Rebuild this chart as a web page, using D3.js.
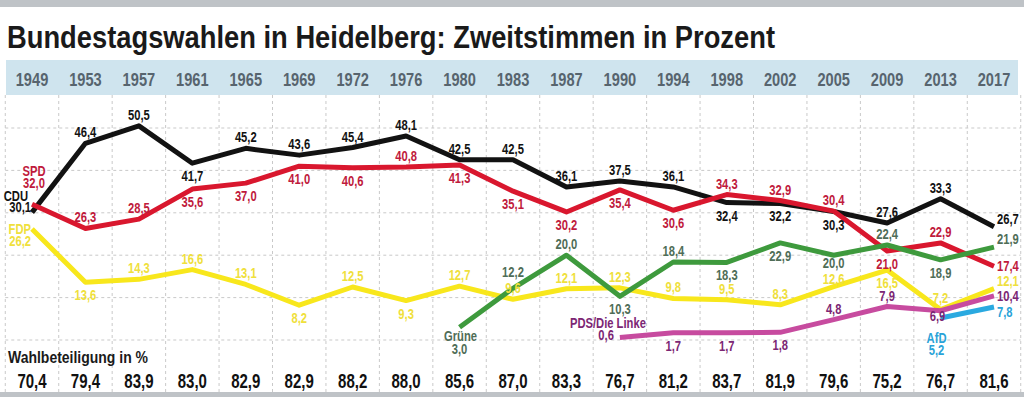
<!DOCTYPE html>
<html>
<head>
<meta charset="utf-8">
<script src="https://cdn.jsdelivr.net/npm/d3@7"></script>
<style>
  html, body { margin: 0; padding: 0; background: #ffffff; }
  svg { display: block; }
  text { font-family: "Liberation Sans", Arial, "DejaVu Sans", sans-serif; font-weight: bold; }
</style>
</head>
<body>
<svg id="chart" width="1024" height="397"></svg>
<script>
// ---------- DATA ----------
const years = [1949,1953,1957,1961,1965,1969,1972,1976,1980,1983,1987,1990,1994,1998,2002,2005,2009,2013,2017];
const cdu   = [30.1,46.4,50.5,41.7,45.2,43.6,45.4,48.1,42.5,42.5,36.1,37.5,36.1,32.4,32.2,30.3,27.6,33.3,26.7];
const spd   = [32.0,26.3,28.5,35.6,37.0,41.0,40.6,40.8,41.3,35.1,30.2,35.4,30.6,34.3,32.9,30.4,21.0,22.9,17.4];
const fdp   = [26.2,13.6,14.3,16.6,13.1,8.2,12.5,9.3,12.7,9.6,12.1,12.3,9.8,9.5,8.3,12.6,16.5,7.2,12.1];
const grueneYears = [1980,1983,1987,1990,1994,1998,2002,2005,2009,2013,2017];
const gruene      = [3.0,12.2,20.0,10.3,18.4,18.3,22.9,20.0,22.4,18.9,21.9];
const linkeYears  = [1990,1994,1998,2002,2005,2009,2013,2017];
const linke       = [0.6,1.7,1.7,1.8,4.8,7.9,6.9,10.4];
const afdYears    = [2013,2017];
const afd         = [5.2,7.8];
const turnout     = [70.4,79.4,83.9,83.0,82.9,82.9,88.2,88.0,85.6,87.0,83.3,76.7,81.2,83.7,81.9,79.6,75.2,76.7,81.6];
const gridValues  = [0,10,20,30,40,50];
const titleText   = "Bundestagswahlen in Heidelberg: Zweitstimmen in Prozent";
const turnoutLabel = "Wahlbeteiligung in %";

// ---------- LAYOUT (label placement codes, kept apart from data) ----------
// A = above, U = higher above, a = just above, B = below, b = below (tight),
// M = on/just under the point, R/RA/RB = right of the last point, F = first point (with party name)
const cduPlace    = "F A A B A A A A A A A A A B B B A A RA".split(" ");
const spdPlace    = "F A A B B B B A B B B B B A A A B A R".split(" ");
const fdpPlace    = "F B A A A B A B A A A A A A A a B A RA".split(" ");
const gruenePlace = "F U A B A B B b A B RA".split(" ");
const linkePlace  = "F B B B A A M R".split(" ");
const afdPlace    = "F RB".split(" ");

const series = [
  {name:"CDU", yrs:years, vals:cdu, place:cduPlace, line:"#121212", label:"#121212", lead:"left"},
  {name:"SPD", yrs:years, vals:spd, place:spdPlace, line:"#d9172e", label:"#c01a3c", lead:"top"},
  {name:"FDP", yrs:years, vals:fdp, place:fdpPlace, line:"#f8e71c", label:"#efe03c", lead:"leftLow"},
  {name:"Grüne", yrs:grueneYears, vals:gruene, place:gruenePlace, line:"#3e9a3d", label:"#4f6d57", lead:"below"},
  {name:"PDS/Die Linke", yrs:linkeYears, vals:linke, place:linkePlace, line:"#c74b9f", label:"#7c2674", lead:"linke"},
  {name:"AfD", yrs:afdYears, vals:afd, place:afdPlace, line:"#2aa9e0", label:"#2aa3d8", lead:"belowFar"}
];

// ---------- SCALES ----------
const W = 1024, H = 397;
const x = d3.scalePoint().domain(years).range([32, 994]);
const step = x.step();
const y = d3.scaleLinear().domain([0, 50]).range([340, 128]);
const fmt = v => d3.format(".1f")(v).replace(".", ",");

// condensed look: squeeze glyphs horizontally
function condense(sel, factor) {
  sel.each(function() {
    const l = this.getComputedTextLength();
    d3.select(this).attr("textLength", l * factor).attr("lengthAdjust", "spacingAndGlyphs");
  });
}

const svg = d3.select("#chart");

// background bars
svg.append("rect").attr("x",0).attr("y",0).attr("width",W).attr("height",7).attr("fill","#bfc3c7");
svg.append("rect").attr("x",0).attr("y",392).attr("width",W).attr("height",5).attr("fill","#bfc3c7");

// grid
const gridG = svg.append("g").attr("stroke","#c9c9c9").attr("stroke-width",1).attr("stroke-dasharray","3,3");
const bounds = years.map(yr => x(yr) - step/2).concat([x(years[years.length-1]) + step/2]);
gridG.selectAll("line.v").data(bounds).join("line").attr("class","v")
  .attr("x1",d=>d).attr("x2",d=>d).attr("y1",95).attr("y2",392);
gridG.selectAll("line.h").data(gridValues).join("line").attr("class","h")
  .attr("x1",bounds[0]).attr("x2",bounds[bounds.length-1]).attr("y1",d=>y(d)).attr("y2",d=>y(d));

// header band
svg.append("rect").attr("x",6).attr("y",60).attr("width",1012).attr("height",35).attr("fill","#cfe4ee");
const yearTexts = svg.append("g").selectAll("text").data(years).join("text")
  .attr("x",d=>x(d)).attr("y",86).attr("text-anchor","middle")
  .attr("font-size",19).attr("fill","#57646e").text(d=>d);
condense(yearTexts, 0.77);

// title
svg.append("text").attr("x",7).attr("y",48).attr("font-size",32).attr("fill","#1a1a1a").text(titleText)
  .attr("textLength", 768).attr("lengthAdjust","spacingAndGlyphs");

// lines
const lineGen = d3.line().x(d=>x(d.year)).y(d=>y(d.value)).curve(d3.curveLinear);
series.forEach(s => {
  s.points = s.yrs.map((yr,i)=>({year:yr, value:s.vals[i], place:s.place[i]}));
  svg.append("path").datum(s.points).attr("d", lineGen)
    .attr("fill","none").attr("stroke", s.line).attr("stroke-width",5)
    .attr("stroke-linejoin","round").attr("stroke-linecap","butt");
});

// labels
const lblG = svg.append("g").attr("font-size",14);
function addText(tx, ty, anchor, color, str) {
  lblG.append("text").attr("class","single").attr("x",tx).attr("y",ty).attr("text-anchor",anchor).attr("fill",color).text(str);
}
// two-line label (party name + first value) as one text block
function addBlock(x1, y1, x2, y2, anchor, color, name, val) {
  const t = lblG.append("text").attr("class","block").attr("text-anchor",anchor).attr("fill",color);
  t.append("tspan").attr("x",x1).attr("y",y1).text(name);
  t.append("tspan").attr("x",x2).attr("y",y2).text(val);
}
series.forEach(s => {
  s.points.forEach(p => {
    const px = x(p.year), py = y(p.value), v = fmt(p.value);
    switch (p.place) {
      case "A": addText(px, py-6, "middle", s.label, v); break;
      case "U": addText(px, py-11, "middle", s.label, v); break;
      case "a": addText(px, py-3, "middle", s.label, v); break;
      case "B": addText(px, py+18, "middle", s.label, v); break;
      case "b": addText(px, py+13, "middle", s.label, v); break;
      case "M": addText(px-3, py+10, "middle", s.label, v); break;
      case "R": addText(px+3, py+5, "start", s.label, v); break;
      case "RA": addText(px+3, py-3, "start", s.label, v); break;
      case "RB": addText(px+3, py+10, "start", s.label, v); break;
      case "F":
        if (s.lead === "left") addBlock(px-4, py-11, px-1, py, "end", s.label, s.name, v);
        else if (s.lead === "top") addBlock(px+2, py-28, px+2, py-16, "middle", s.label, s.name, v);
        else if (s.lead === "leftLow") addBlock(px-1, py+5, px-1, py+17, "end", s.label, s.name, v);
        else if (s.lead === "below") addBlock(px+1, py+14, px, py+27, "middle", s.label, s.name, v);
        else if (s.lead === "belowFar") addBlock(px-4, py+25, px-4, py+37, "middle", s.label, s.name, v);
        else if (s.lead === "linke") addBlock(px+26, py-9, px-6, py+3, "end", s.label, s.name, v);
        break;
    }
  });
});
condense(lblG.selectAll("text.single"), 0.8);
condense(lblG.selectAll("text.block tspan"), 0.8);

// turnout row
const tl = svg.append("text").attr("x",8).attr("y",363).attr("font-size",17).attr("fill","#1a1a1a").text(turnoutLabel);
tl.attr("textLength", 140).attr("lengthAdjust","spacingAndGlyphs");
const tv = svg.append("g").selectAll("text").data(turnout).join("text")
  .attr("x",(d,i)=>x(years[i])).attr("y",388).attr("text-anchor","middle")
  .attr("font-size",20).attr("fill","#111").text(d=>fmt(d));
condense(tv, 0.75);
</script>
</body>
</html>
